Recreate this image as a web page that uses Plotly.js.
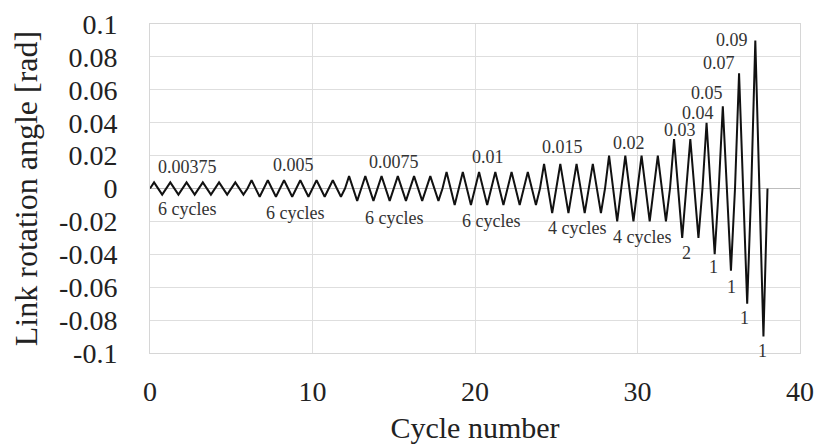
<!DOCTYPE html>
<html>
<head>
<meta charset="utf-8">
<script src="https://cdn.plot.ly/plotly-3.0.1.min.js"></script>
<style>html,body{margin:0;padding:0;background:#fff;}#chart{width:817px;height:447px;}</style>
</head>
<body>
<div id="chart"></div>
<script>
// Loading protocol
const amplitudes  = [0.00375, 0.005, 0.0075, 0.01, 0.015, 0.02, 0.03, 0.04, 0.05, 0.07, 0.09];
const cycleCounts = [6, 6, 6, 6, 4, 4, 2, 1, 1, 1, 1];

const amplitudeLabels = ['0.00375', '0.005', '0.0075', '0.01', '0.015', '0.02', '0.03', '0.04', '0.05', '0.07', '0.09'];
const countLabels     = ['6 cycles', '6 cycles', '6 cycles', '6 cycles', '4 cycles', '4 cycles', '2', '1', '1', '1', '1'];

const yTickVals   = [0.1, 0.08, 0.06, 0.04, 0.02, 0, -0.02, -0.04, -0.06, -0.08, -0.1];
const yTickText   = ['0.1', '0.08', '0.06', '0.04', '0.02', '0', '-0.02', '-0.04', '-0.06', '-0.08', '-0.1'];
const xTickVals   = [0, 10, 20, 30, 40];

// Build the triangular history: each cycle 0 -> +a -> -a -> 0
const xs = [], ys = [];
let n = 0;
amplitudes.forEach((a, i) => {
  for (let k = 0; k < cycleCounts[i]; k++) {
    xs.push(n, n + 0.25, n + 0.75);
    ys.push(0, a, -a);
    n += 1;
  }
});
xs.push(n); ys.push(0);

// label placement (layout only)
const topPos = [[2.3,0.0128],[8.8,0.014],[15.0,0.0159],[20.8,0.019],[25.4,0.025],[29.5,0.0274],[32.6,0.0354],[33.7,0.046],[34.3,0.058],[35.0,0.076],[35.8,0.0905]];
const botPos = [[2.3,-0.0122],[8.9,-0.0146],[15.0,-0.018],[21.0,-0.0195],[26.3,-0.024],[30.3,-0.0295],[33.0,-0.039],[34.7,-0.048],[35.8,-0.060],[36.6,-0.0787],[37.7,-0.099]];

const serif = 'Liberation Serif';
const annFont = {family: serif, size: 18, color: '#333'};
const annotations = [];
amplitudeLabels.forEach((t, i) => {
  annotations.push({x: topPos[i][0], y: topPos[i][1], xref: 'x', yref: 'y', text: t, showarrow: false, font: annFont});
});
countLabels.forEach((t, i) => {
  annotations.push({x: botPos[i][0], y: botPos[i][1], xref: 'x', yref: 'y', text: t, showarrow: false, font: annFont});
});

const trace = {
  x: xs, y: ys, type: 'scatter', mode: 'lines',
  line: {color: '#111', width: 2},
  hoverinfo: 'skip'
};

const layout = {
  width: 817, height: 447,
  margin: {l: 150, r: 17, t: 24, b: 94},
  paper_bgcolor: '#fff', plot_bgcolor: '#fff',
  showlegend: false,
  font: {family: serif, color: '#222'},
  xaxis: {
    range: [0, 40], tickvals: xTickVals, ticktext: xTickVals.map(String),
    showgrid: true, gridcolor: '#dedede', gridwidth: 1,
    zeroline: false,
    showline: true, mirror: true, linecolor: '#d6d6d6', linewidth: 1,
    ticks: 'outside', ticklen: 13, tickcolor: 'rgba(0,0,0,0)',
    tickfont: {family: serif, size: 28, color: '#222'},
    title: {text: 'Cycle number', font: {family: serif, size: 30, color: '#222'}, standoff: 11}
  },
  yaxis: {
    range: [-0.1, 0.1], tickvals: yTickVals, ticktext: yTickText,
    showgrid: true, gridcolor: '#dedede', gridwidth: 1,
    zeroline: true, zerolinecolor: '#bdbdbd', zerolinewidth: 1,
    showline: true, mirror: true, linecolor: '#d6d6d6', linewidth: 1,
    ticks: 'outside', ticklen: 26, tickcolor: 'rgba(0,0,0,0)',
    tickfont: {family: serif, size: 28, color: '#222'},
    title: {text: 'Link rotation angle [rad]', font: {family: serif, size: 32, color: '#222'}, standoff: 11}
  },
  annotations: annotations
};

Plotly.newPlot('chart', [trace], layout, {displayModeBar: false, staticPlot: true});
</script>
</body>
</html>
